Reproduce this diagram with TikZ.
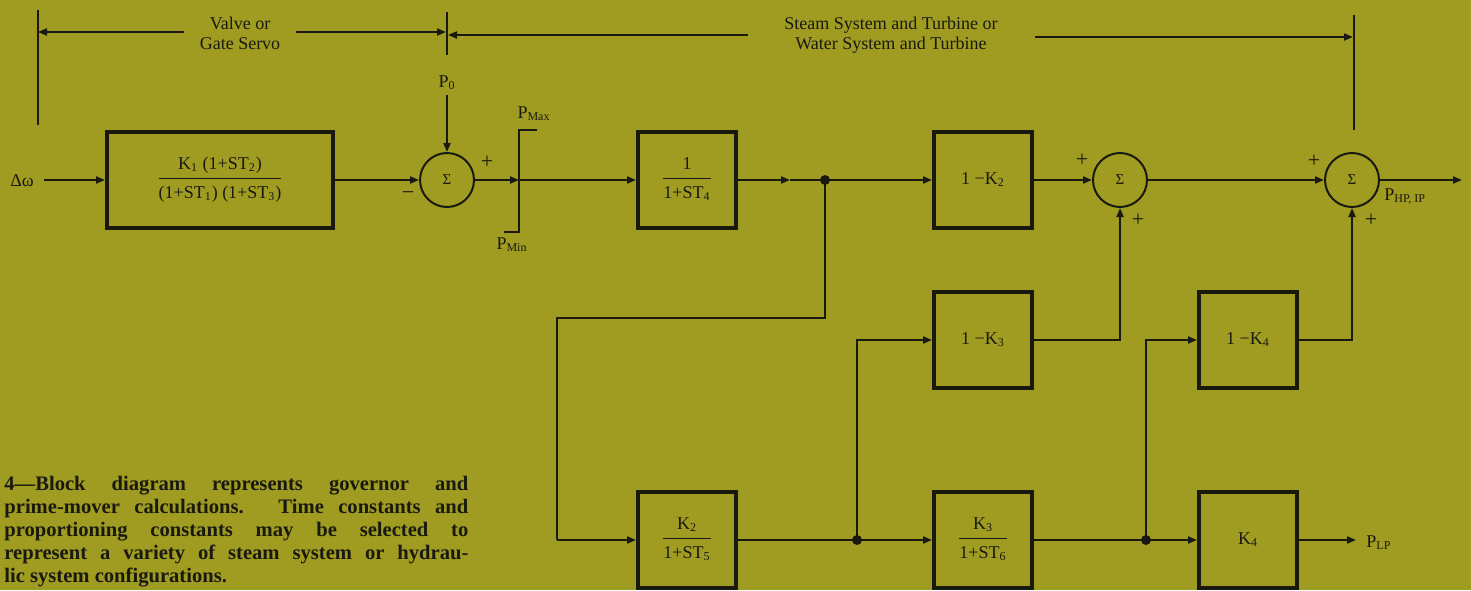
\documentclass[tikz,border=0pt]{standalone}
\usepackage{fontspec}
\setmainfont{Liberation Serif}
\usetikzlibrary{arrows.meta}
\definecolor{bg}{RGB}{160,156,34}
\definecolor{ink}{RGB}{25,25,15}
\newcommand\blkfrac[2]{\begin{tabular}{@{}c@{}}#1\\[1pt]\hline\rule{0pt}{10pt}#2\end{tabular}}
\begin{document}
\begin{tikzpicture}[x=0.5pt,y=-0.5pt,
  blk/.style={draw=ink, line width=2pt, minimum width=49pt, minimum height=48pt, inner sep=0pt, text=ink, font=\fontsize{9}{10}\selectfont},
  sumn/.style={circle, draw=ink, line width=1pt, minimum size=27pt, inner sep=0pt, text=ink, font=\fontsize{7.5}{8}\selectfont},
  conn/.style={draw=ink, line width=1pt},
  arr/.style={conn, -{Triangle[length=4.5pt,width=3.5pt]}},
  dotn/.style={circle, fill=ink, minimum size=5pt, inner sep=0pt},
  lbl/.style={text=ink, font=\fontsize{9}{10}\selectfont, inner sep=0pt},
  sgn/.style={text=ink, font=\fontsize{11}{11}\selectfont, inner sep=0pt},
  captxt/.style={text=ink, font=\bfseries\fontsize{10.3}{12}\selectfont, inner sep=0pt, anchor=base west}]
\fill[bg] (0,0) rectangle (1471,590);
\useasboundingbox (0,0) rectangle (1471,590);

% top brackets
\coordinate (vl1) at (38,10); \coordinate (vl2) at (38,125);
\draw[conn] (vl1) -- (vl2);
\coordinate (tk1) at (447,12); \coordinate (tk2) at (447,55);
\draw[conn] (tk1) -- (tk2);
\coordinate (vr1) at (1354,15); \coordinate (vr2) at (1354,130);
\draw[conn] (vr1) -- (vr2);
\node[lbl, align=center] (valve) at (240,33) {Valve or\\Gate Servo};
\node[lbl, align=center] (steam) at (891,35) {Steam System and Turbine or\\Water System and Turbine};
\coordinate (a1) at (184,32); \coordinate (a1e) at (38,32);
\coordinate (a2) at (296,32); \coordinate (a2e) at (446,32);
\draw[arr] (a1) -- (a1e);
\draw[arr] (a2) -- (a2e);
\coordinate (a3) at (748,35); \coordinate (a3e) at (448,35);
\coordinate (a4) at (1035,37); \coordinate (a4e) at (1353,37);
\draw[arr] (a3) -- (a3e);
\draw[arr] (a4) -- (a4e);

% top row
\node[lbl] (dw) at (22,181) {Δω};
\coordinate (dws) at (44,180);
\node[blk, minimum width=113pt] (b1) at (220,180) {\blkfrac{K\textsubscript{1} (1+ST\textsubscript{2})}{(1+ST\textsubscript{1}) (1+ST\textsubscript{3})}};
\node[sumn] (s1) at (447,180) {Σ};
\node[lbl] (p0) at (447,83) {P\textsubscript{0}};
\coordinate (p0s) at (447,95);
\coordinate (lim) at (519,180);
\coordinate (limt) at (519,130); \coordinate (limtr) at (537,130);
\coordinate (limb) at (519,232); \coordinate (limbl) at (504,232);
\draw[conn] (limtr) -- (limt) -- (limb) -- (limbl);
\node[lbl] (pmax) at (534,114) {P\textsubscript{Max}};
\node[lbl] (pmin) at (512,245) {P\textsubscript{Min}};
\node[blk] (b4) at (687,180) {\blkfrac{1}{1+ST\textsubscript{4}}};
\node[dotn] (d1) at (825,180) {};
\coordinate (m1) at (790,180);
\node[blk] (bk2) at (983,180) {1 −K\textsubscript{2}};
\node[sumn] (s2) at (1120,180) {Σ};
\node[sumn] (s3) at (1352,180) {Σ};
\coordinate (out) at (1462,180);
\node[lbl, anchor=west] (php) at (1384,197) {P\textsubscript{HP, IP}};

\draw[arr] (dws) -- (b1.west);
\draw[arr] (b1.east) -- (s1.west);
\draw[arr] (p0s) -- (s1.north);
\draw[arr] (s1.east) -- (lim);
\draw[arr] (lim) -- (b4.west);
\draw[arr] (b4.east) -- (m1);
\draw[conn] (m1) -- (d1.center);
\draw[arr] (d1.center) -- (bk2.west);
\draw[arr] (bk2.east) -- (s2.west);
\draw[arr] (s2.east) -- (s3.west);
\draw[arr] (s3.east) -- (out);

\node[sgn] (m-s1) at (408,196) {−};
\node[sgn] (p-s1) at (487,162) {+};
\node[sgn] (p1-s2) at (1082,160) {+};
\node[sgn] (p2-s2) at (1138,220) {+};
\node[sgn] (p1-s3) at (1314,161) {+};
\node[sgn] (p2-s3) at (1371,220) {+};

% middle and bottom rows
\node[blk] (bk3) at (983,340) {1 −K\textsubscript{3}};
\node[blk] (bk4m) at (1248,340) {1 −K\textsubscript{4}};
\node[blk] (bt5) at (687,540) {\blkfrac{K\textsubscript{2}}{1+ST\textsubscript{5}}};
\node[blk] (bt6) at (983,540) {\blkfrac{K\textsubscript{3}}{1+ST\textsubscript{6}}};
\node[blk] (bk4) at (1248,540) {K\textsubscript{4}};
\node[dotn] (d2) at (857,540) {};
\node[dotn] (d3) at (1146,540) {};
\coordinate (r1) at (825,318);
\coordinate (r2) at (557,318);
\coordinate (r3) at (557,540);
\coordinate (lp) at (1356,540);
\node[lbl, anchor=west] (plp) at (1366,543) {P\textsubscript{LP}};

\draw[conn] (d1.center) -- (r1) -- (r2) -- (r3);
\draw[arr] (r3) -- (bt5.west);
\draw[conn] (bt5.east) -- (d2.center);
\draw[arr] (d2.center) -- (bt6.west);
\draw[arr] (d2.center) |- (bk3.west);
\draw[arr] (bk3.east) -| (s2.south);
\draw[conn] (bt6.east) -- (d3.center);
\draw[arr] (d3.center) -- (bk4.west);
\draw[arr] (d3.center) |- (bk4m.west);
\draw[arr] (bk4m.east) -| (s3.south);
\draw[arr] (bk4.east) -- (lp);

% caption
\node[captxt] (c1) at (4,490) {\makebox[232pt][s]{4—Block diagram represents governor and}};
\node[captxt] (c2) at (4,513) {\makebox[232pt][s]{prime-mover calculations. Time constants and}};
\node[captxt] (c3) at (4,536) {\makebox[232pt][s]{proportioning constants may be selected to}};
\node[captxt] (c4) at (4,559) {\makebox[232pt][s]{represent a variety of steam system or hydrau-}};
\node[captxt] (c5) at (4,582) {lic system configurations.};
\end{tikzpicture}
\end{document}
